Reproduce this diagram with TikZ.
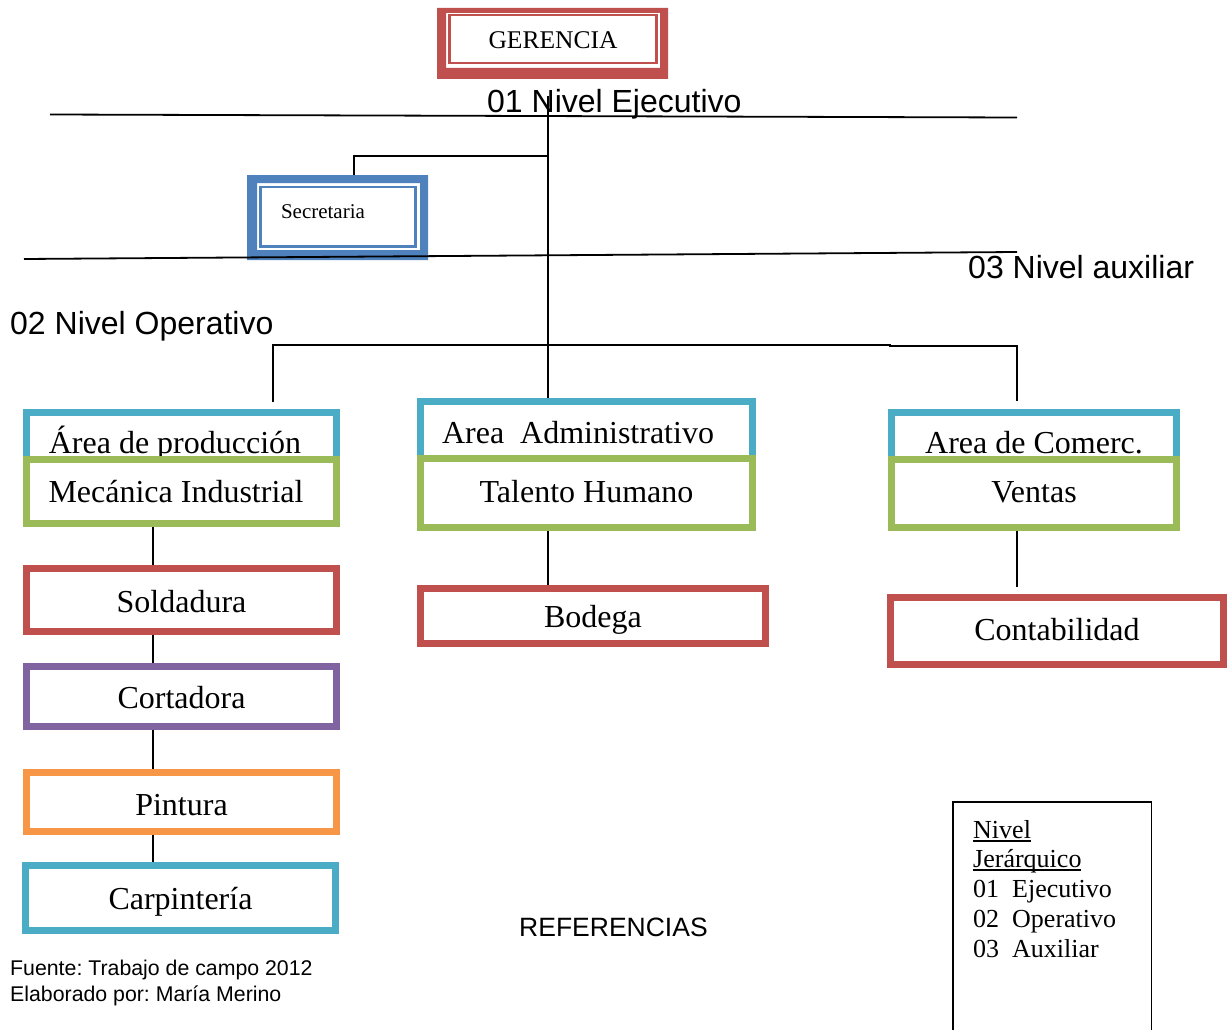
\documentclass[tikz,border=0pt]{standalone}
\usepackage{fontspec}
\setmainfont{Liberation Serif}
\newfontfamily\arialf{Liberation Sans}
\usetikzlibrary{backgrounds}
\frenchspacing
\definecolor{cred}{HTML}{C0504D}
\definecolor{cgreen}{HTML}{9BBB59}
\definecolor{caqua}{HTML}{4BACC6}
\definecolor{cpurple}{HTML}{8064A2}
\definecolor{corange}{HTML}{F79646}
\definecolor{cblue}{HTML}{4F81BD}
\newcommand\myul[1]{\setbox0\hbox{#1}\rlap{\vrule height -1.7pt depth 3.6pt width \wd0}\box0}
\begin{document}
\begin{tikzpicture}[x=1pt,y=-1pt,
  orgbox/.style={draw, line width=7pt, fill=white, inner sep=0pt, outer sep=0pt, anchor=north west,
                 font=\fontsize{32}{38}\selectfont},
  conn/.style={line width=1.6pt, black},
  lvl/.style={line width=1.8pt, black},
  sanslbl/.style={font=\arialf\fontsize{32}{38}\selectfont, inner sep=0pt, anchor=base west},
  smallsans/.style={font=\arialf\fontsize{21.3}{25}\selectfont\frenchspacing, inner sep=0pt, anchor=base west},
  legtext/.style={font=\fontsize{26}{30}\selectfont, inner sep=0pt, anchor=base west},
]
\useasboundingbox (0,0) rectangle (1228,1030);

% GERENCIA
\fill[cred, even odd rule] (437,8) rectangle (668,79) (446,13) rectangle (660,68);
\node[draw=cred, line width=2.5pt, inner sep=0pt, outer sep=0pt, anchor=north west, minimum width=207pt,
      text height=34pt, text depth=14pt, font=\fontsize{25.5}{30}\selectfont] (ger) at (449.5,15) {GERENCIA};

% Secretaria
\fill[cblue, even odd rule] (247,175) rectangle (428,260) (257,183) rectangle (420,250);
\node[draw=cblue, line width=2.4pt, inner xsep=20.5pt, inner ysep=0pt, outer sep=0pt, anchor=north west,
      text width=114pt, align=left, text height=31.3pt, text depth=28.3pt,
      font=\fontsize{21}{25}\selectfont] (sec) at (260.5,186.7) {Secretaria};

% Left column
\node[orgbox, draw=caqua, minimum width=310pt, text height=40.5pt, text depth=13.5pt] (prod) at (26.5,412.5) {Área de producción\kern13pt};
\node[orgbox, draw=cgreen, minimum width=310pt, text height=42.5pt, text depth=21.5pt] (mec) at (26.5,459.5) {Mecánica Industrial\kern11pt};
\node[orgbox, draw=cred, minimum width=310pt, text height=43.5pt, text depth=19.5pt] (sold) at (26.5,568.5) {Soldadura};
\node[orgbox, draw=cpurple, minimum width=310pt, text height=41.5pt, text depth=18.5pt] (cort) at (26.5,666.5) {Cortadora};
\node[orgbox, draw=corange, minimum width=310pt, text height=42.5pt, text depth=16.5pt] (pint) at (26.5,772.5) {Pintura};
\node[orgbox, draw=caqua, minimum width=310pt, text height=43.5pt, text depth=21.5pt] (carp) at (25.5,865.5) {Carpintería};

% Center column
\node[orgbox, draw=caqua, minimum width=332pt, text height=41.5pt, text depth=23.5pt] (adm) at (420.5,401.5) {Area~~Administrativo\kern17pt};
\node[orgbox, draw=cgreen, minimum width=332pt, text height=43.5pt, text depth=25.5pt] (tal) at (420.5,458.5) {Talento Humano};
\node[orgbox, draw=cred, minimum width=345pt, text height=38.5pt, text depth=16.5pt] (bod) at (420.5,588.5) {Bodega};

% Right column
\node[orgbox, draw=caqua, minimum width=285pt, text height=40.5pt, text depth=13.5pt] (com) at (891.5,412.5) {Area de Comerc.};
\node[orgbox, draw=cgreen, minimum width=285pt, text height=42.5pt, text depth=25.5pt] (ven) at (891.5,459.5) {Ventas};
\node[orgbox, draw=cred, minimum width=333pt, text height=42.5pt, text depth=24.5pt] (cont) at (890.5,597.5) {Contabilidad};

% coordinates for connectors
\coordinate (top) at (548,96);
\coordinate (j1) at (548,156);
\coordinate (secin) at (354,175);
\coordinate (br) at (548,345);
\coordinate (dl) at (273,345);
\coordinate (dlb) at (273,402);
\coordinate (kink) at (890,345);
\coordinate (dr) at (1017,346);
\coordinate (drb) at (1017,401);
\coordinate (cl) at (153,0);
\coordinate (ce) at (1017,587);

\begin{scope}[on background layer]
  \draw[conn] (top) -- (top |- adm.north);
  \draw[conn] (j1) -| (secin);
  \draw[conn] (dlb) -- (dl) -- (kink) -- (kink |- dr) -- (dr) -- (drb);
  \draw[conn] (mec.south -| cl) -- (sold.north -| cl);
  \draw[conn] (sold.south -| cl) -- (cort.north -| cl);
  \draw[conn] (cort.south -| cl) -- (pint.north -| cl);
  \draw[conn] (pint.south -| cl) -- (carp.north -| cl);
  \draw[conn] (tal.south -| top) -- (bod.north -| top);
  \draw[conn] (ven.south -| dr) -- (ce);
\end{scope}

% level lines
\coordinate (l1a) at (50,114.5);
\coordinate (l1b) at (1017,117.5);
\coordinate (l2a) at (24,259);
\coordinate (l2b) at (1017,252);
\draw[lvl] (l1a) -- (l1b);
\draw[lvl] (l2a) -- (l2b);

% level labels
\node[sanslbl] (lv1) at (487,113) {01 Nivel Ejecutivo};
\node[sanslbl] (lv3) at (968,278.5) {03 Nivel auxiliar};
\node[sanslbl] (lv2) at (10,334.5) {02 Nivel Operativo};

% references
\node[font=\arialf\fontsize{26.5}{30}\selectfont, inner sep=0pt, anchor=base west] (ref) at (519,936.5) {REFERENCIAS};
\node[smallsans] (f1) at (10,975) {Fuente: Trabajo de campo 2012};
\node[smallsans] (f2) at (10,1001) {Elaborado por: María Merino};

% legend box
\coordinate (lga) at (952.75,1032);
\coordinate (lgb) at (952.75,801.75);
\coordinate (lgc) at (1151.25,801.75);
\coordinate (lgd) at (1151.25,1032);
\draw[line width=1.5pt] (lga) -- (lgb) -- (lgc) -- (lgd);
\node[legtext] (lg1) at (973,838) {\myul{Nivel}};
\node[legtext] (lg2) at (973,867) {\myul{Jerárquico}};
\node[legtext] (lg3) at (973,897) {01~~Ejecutivo};
\node[legtext] (lg4) at (973,927) {02~~Operativo};
\node[legtext] (lg5) at (973,957) {03~~Auxiliar};
\end{tikzpicture}
\end{document}
